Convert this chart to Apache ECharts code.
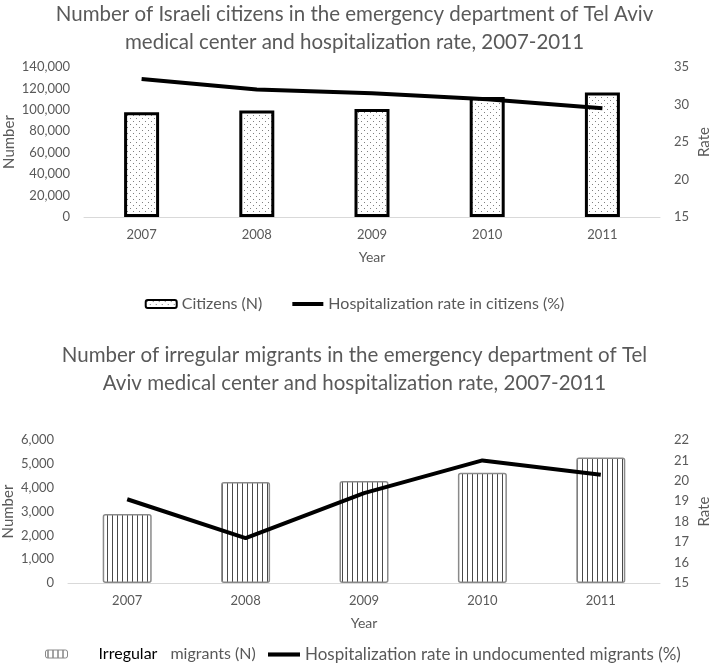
<!DOCTYPE html>
<html><head><meta charset="utf-8">
<script src="https://cdn.jsdelivr.net/npm/echarts@6/dist/echarts.min.js"></script>
<style>html,body{margin:0;padding:0;background:#fff}#c{width:709px;height:669px}</style>
</head><body><div id="c"></div>
<script>
const years = ['2007','2008','2009','2010','2011'];
const citizensN = [97700, 99300, 100800, 112000, 116100];
const citizensRate = [33.4, 32.0, 31.5, 30.7, 29.5];
const migrantsN = [2900, 4240, 4280, 4630, 5270];
const migrantsRate = [19.1, 17.2, 19.4, 21.0, 20.3];
const leftTicks1 = [0, 140000, 20000];
const rightTicks1 = [15, 35, 5];
const leftTicks2 = [0, 6000, 1000];
const rightTicks2 = [15, 22, 1];

function dotPattern(){
  const c = document.createElement('canvas'); c.width = 6; c.height = 6;
  const g = c.getContext('2d'); g.fillStyle = '#fff'; g.fillRect(0,0,6,6);
  g.fillStyle = '#808080'; g.fillRect(1,1,1,1); g.fillRect(4,4,1,1);
  return {image: c, repeat: 'repeat'};
}
function stripePattern(){
  const c = document.createElement('canvas'); c.width = 5; c.height = 4;
  const g = c.getContext('2d'); g.fillStyle = '#fff'; g.fillRect(0,0,5,4);
  g.fillStyle = '#4a4a4a'; g.fillRect(2,0,1,4);
  return {image: c, repeat: 'repeat'};
}
const FONT = 'Lato';
const grey = '#595959';
const fmt = v => v.toLocaleString('en-US');
const lineIcon = 'path://M0,0h31v4h-31z';
const chart = echarts.init(document.getElementById('c'));
const axisLine = {show: true, lineStyle: {color: '#d9d9d9', width: 1}};
function valAxis(gi, t, pos, name, gap, withFmt){
  return {type: 'value', gridIndex: gi, position: pos, min: t[0], max: t[1], interval: t[2],
    name: name, nameLocation: 'middle', nameGap: gap, nameRotate: 90, nameMoveOverlap: false,
    nameTextStyle: {color: grey, fontSize: 15, fontFamily: FONT},
    axisLine: {show: false}, axisTick: {show: false}, splitLine: {show: false},
    axisLabel: {color: grey, fontSize: 13, fontFamily: FONT, margin: 14, formatter: withFmt ? fmt : null}};
}
function catAxis(gi){
  return {type: 'category', gridIndex: gi, data: years, axisLine: axisLine, axisTick: {show: false},
    name: 'Year', nameLocation: 'middle', nameGap: 33, nameMoveOverlap: false,
    nameTextStyle: {color: grey, fontSize: 14, fontFamily: FONT},
    axisLabel: {color: grey, fontSize: 13, fontFamily: FONT, margin: 11}};
}
chart.setOption({
  animation: false,
  textStyle: {fontFamily: FONT},
  title: [
    {text: 'Number of Israeli citizens in the emergency department of Tel Aviv\nmedical center and hospitalization rate, 2007-2011',
     left: 'center', top: -5,
     textStyle: {color: grey, fontSize: 20.5, fontWeight: 'normal', fontFamily: FONT, lineHeight: 28}},
    {text: 'Number of irregular migrants in the emergency department of Tel\nAviv medical center and hospitalization rate, 2007-2011',
     left: 'center', top: 336,
     textStyle: {color: grey, fontSize: 20.5, fontWeight: 'normal', fontFamily: FONT, lineHeight: 28}}
  ],
  legend: [
    {top: 291, left: 'center', itemWidth: 31, itemHeight: 8, itemGap: 30,
     textStyle: {color: grey, fontSize: 16, fontFamily: FONT},
     data: [{name: 'Citizens (N)', itemStyle: {borderWidth: 2, borderColor: '#000'}},
            {name: 'Hospitalization rate in citizens (%)', icon: lineIcon}]},
    {top: 641, left: 40, itemWidth: 22, itemHeight: 8,
     textStyle: {color: grey, fontSize: 16, fontFamily: FONT,
       rich: {g: {width: 26}, b: {color: '#000', fontSize: 16, fontFamily: FONT},
              m: {color: grey, fontSize: 16, fontFamily: FONT, padding: [0, 0, 0, 13]}}},
     formatter: () => '{g|}{b|Irregular}{m|migrants (N)}',
     data: [{name: 'Irregular migrants (N)', itemStyle: {borderWidth: 1, borderColor: '#888', borderRadius: 3}}]},
    {top: 641, left: 263, itemWidth: 32, itemHeight: 8,
     textStyle: {color: grey, fontSize: 17, fontFamily: FONT},
     data: [{name: 'Hospitalization rate in undocumented migrants (%)', icon: lineIcon}]}
  ],
  grid: [
    {left: 84, right: 49, top: 67, height: 150, outerBoundsMode: 'none', containLabel: false},
    {left: 68, right: 49, top: 440, height: 143, outerBoundsMode: 'none', containLabel: false}
  ],
  xAxis: [catAxis(0), catAxis(1)],
  yAxis: [
    valAxis(0, leftTicks1, 'left', 'Number', 67, true),
    valAxis(0, rightTicks1, 'right', 'Rate', 37, false),
    valAxis(1, leftTicks2, 'left', 'Number', 52, true),
    valAxis(1, rightTicks2, 'right', 'Rate', 37, false)
  ],
  series: [
    {name: 'Citizens (N)', type: 'bar', xAxisIndex: 0, yAxisIndex: 0, data: citizensN, barWidth: 35,
     itemStyle: {color: dotPattern(), borderColor: '#000', borderWidth: 3}},
    {name: 'Hospitalization rate in citizens (%)', type: 'line', xAxisIndex: 0, yAxisIndex: 1, data: citizensRate,
     symbol: 'none', lineStyle: {color: '#000', width: 4}, itemStyle: {color: '#000'}},
    {name: 'Irregular migrants (N)', type: 'bar', xAxisIndex: 1, yAxisIndex: 2, data: migrantsN, barWidth: 49,
     itemStyle: {color: stripePattern(), borderColor: '#8a8a8a', borderWidth: 1.5, borderRadius: 2}},
    {name: 'Hospitalization rate in undocumented migrants (%)', type: 'line', xAxisIndex: 1, yAxisIndex: 3, data: migrantsRate,
     symbol: 'none', lineStyle: {color: '#000', width: 4}, itemStyle: {color: '#000'}}
  ]
});
</script></body></html>
